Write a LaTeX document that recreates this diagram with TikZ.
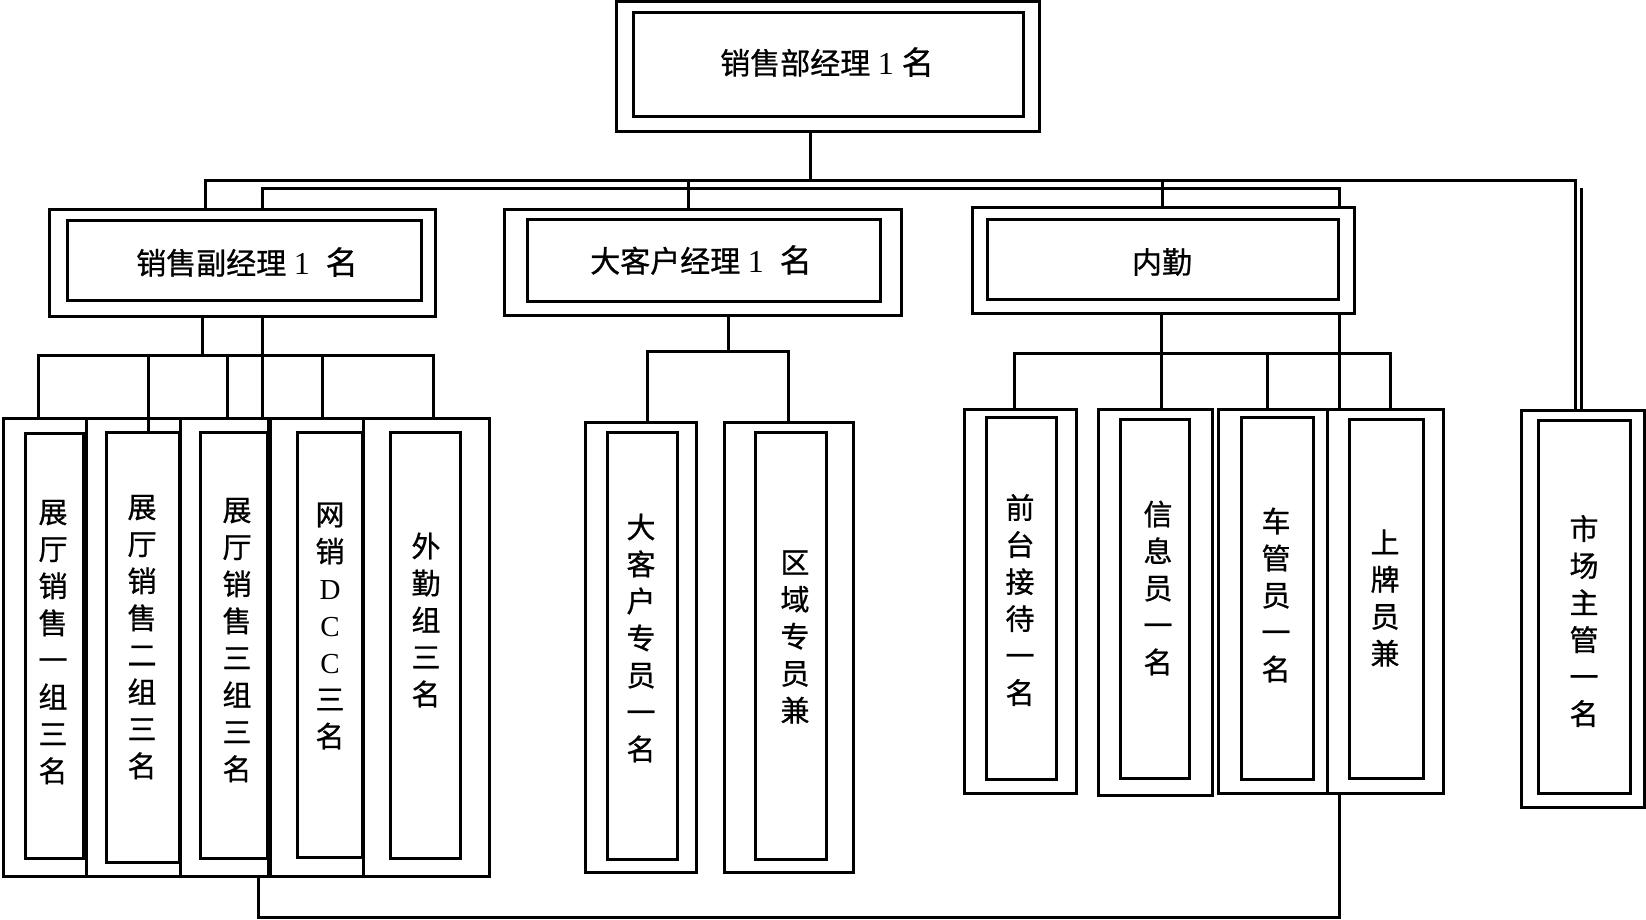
\documentclass[tikz,border=0pt]{standalone}
\usepackage{fontspec}
\setmainfont{Liberation Serif}
\newfontfamily\cjk[FakeBold=0.8]{Noto Sans CJK SC}
\usetikzlibrary{fit}
\tikzset{
  frame/.style={draw=black, line width=3pt, inner sep=0pt, fit={#1}},
  conn/.style={draw=black, line width=3pt, line join=miter},
  htext/.style={inner sep=0pt, font=\fontsize{30}{36}\selectfont},
  vtext/.style={inner sep=0pt, align=center, font=\fontsize{29}{37}\selectfont\cjk},
}
\newcommand\dbox[9]{%
  \node[frame={(#2,#3)(#4,#5)}] (#1) {};
  \node[frame={(#6,#7)(#8,#9)}] (#1i) {};
}
\begin{document}
\begin{tikzpicture}[x=1pt,y=-1pt]
\useasboundingbox[fill=white] (0,0) rectangle (1646,920);

% level 1
\dbox{top}{616}{2}{1039}{132}{633}{13}{1023}{117}
\node[htext] (ttop) at (827,62) {{\cjk 销售部经理} \fontsize{32}{36}\selectfont 1 {\cjk 名}};

% level 2
\dbox{sfj}{49}{210}{435}{316}{67}{221}{421}{300}
\node[htext] (tsfj) at (247,262) {{\cjk 销售副经理} \fontsize{32}{36}\selectfont 1\ \ {\cjk 名}};
\dbox{dkh}{504}{210}{901}{315}{527}{220}{880}{301}
\node[htext] (tdkh) at (701,260) {{\cjk 大客户经理} \fontsize{32}{36}\selectfont 1\ \ {\cjk 名}};
\dbox{nq}{972}{208}{1354}{313}{987}{220}{1338}{299}
\node[htext] (tnq) at (1162,262) {{\cjk 内勤}};

% level 3 left group
\dbox{A}{3}{418}{86}{876}{25}{433}{83}{858}
\dbox{B}{86}{418}{180}{876}{106}{432}{179}{862}
\dbox{C}{180}{418}{268}{876}{200}{432}{267}{858}
\dbox{D}{270}{418}{363}{876}{297}{432}{362}{857}
\dbox{E}{363}{418}{489}{876}{390}{432}{460}{858}
\node[vtext] (tA) at (53,642) {展\\厅\\销\\售\\一\\组\\三\\名};
\node[vtext] (tB) at (142,637) {展\\厅\\销\\售\\二\\组\\三\\名};
\node[vtext] (tC) at (237,640) {展\\厅\\销\\售\\三\\组\\三\\名};
\node[vtext] (tD) at (330,626) {网\\销\\{\rmfamily D}\\{\rmfamily C}\\{\rmfamily C}\\三\\名};
\node[vtext] (tE) at (426,620) {外\\勤\\组\\三\\名};

% level 3 middle group
\dbox{F}{585}{422}{696}{872}{607}{432}{677}{859}
\dbox{G}{724}{422}{853}{872}{755}{432}{826}{859}
\node[vtext] (tF) at (641,638) {大\\客\\户\\专\\员\\一\\名};
\node[vtext] (tG) at (795,637) {区\\域\\专\\员\\兼};

% level 3 right group
\dbox{H}{964}{409}{1076}{793}{986}{417}{1056}{779}
\dbox{I}{1098}{409}{1212}{795}{1120}{419}{1189}{778}
\dbox{J}{1218}{409}{1327}{793}{1241}{417}{1313}{779}
\dbox{K}{1327}{409}{1443}{793}{1349}{419}{1423}{778}
\dbox{L}{1521}{410}{1644}{807}{1538}{420}{1630}{793}
\node[vtext] (tH) at (1020,600) {前\\台\\接\\待\\一\\名};
\node[vtext] (tI) at (1158,588) {信\\息\\员\\一\\名};
\node[vtext] (tJ) at (1276,595) {车\\管\\员\\一\\名};
\node[vtext] (tK) at (1385,598) {上\\牌\\员\\兼};
\node[vtext] (tL) at (1584,621) {市\\场\\主\\管\\一\\名};

% junction coordinates
\coordinate (j0) at (810,181);
\coordinate (l1L) at (205,181);
\coordinate (l1R) at (1575,181);
\coordinate (l1R2) at (1581,188);
\coordinate (d1) at (688,181);
\coordinate (d2) at (1162,181);
\coordinate (l2L) at (262,189);
\coordinate (l2R) at (1339,189);

\coordinate (b0) at (202,355);
\coordinate (bL) at (38,355);
\coordinate (bR) at (433,355);
\coordinate (bm1) at (148,355);
\coordinate (bm2) at (227,355);
\coordinate (bm3) at (322,355);

\coordinate (m0) at (728,351);
\coordinate (mL) at (647,351);
\coordinate (mR) at (788,351);

\coordinate (r0) at (1161,353);
\coordinate (rL) at (1014,353);
\coordinate (rR) at (1390,353);
\coordinate (rm) at (1267,353);

\coordinate (qL) at (258,917);
\coordinate (qR) at (1339,917);

% top connectors
\draw[conn] (top.south -| j0) -- (j0);
\draw[conn] (sfj.north -| l1L) -- (l1L) -- (l1R) -- (L.north -| l1R);
\draw[conn] (l1R2) -- (L.north -| l1R2);
\draw[conn] (d1) -- (dkh.north -| d1);
\draw[conn] (d2) -- (nq.north -| d2);
\draw[conn] (sfj.north -| l2L) -- (l2L) -- (l2R) -- (nq.north -| l2R);

% left group connectors
\draw[conn] (sfj.south -| b0) -- (b0);
\draw[conn] (A.north -| bL) -- (bL) -- (bR) -- (E.north -| bR);
\draw[conn] (bm1) -- (Bi.north -| bm1);
\draw[conn] (bm2) -- (C.north -| bm2);
\draw[conn] (bm3) -- (D.north -| bm3);
\draw[conn] (sfj.south -| l2L) -- (C.north -| l2L);

% middle group connectors
\draw[conn] (dkh.south -| m0) -- (m0);
\draw[conn] (F.north -| mL) -- (mL) -- (mR) -- (G.north -| mR);

% right group connectors
\draw[conn] (nq.south -| r0) -- (r0);
\draw[conn] (H.north -| rL) -- (rL) -- (rR) -- (K.north -| rR);
\draw[conn] (r0) -- (I.north -| r0);
\draw[conn] (rm) -- (J.north -| rm);
\draw[conn] (nq.south -| l2R) -- (K.north -| l2R);

% bottom loop
\draw[conn] (C.south -| qL) -- (qL) -- (qR) -- (K.south -| qR);
\end{tikzpicture}
\end{document}
